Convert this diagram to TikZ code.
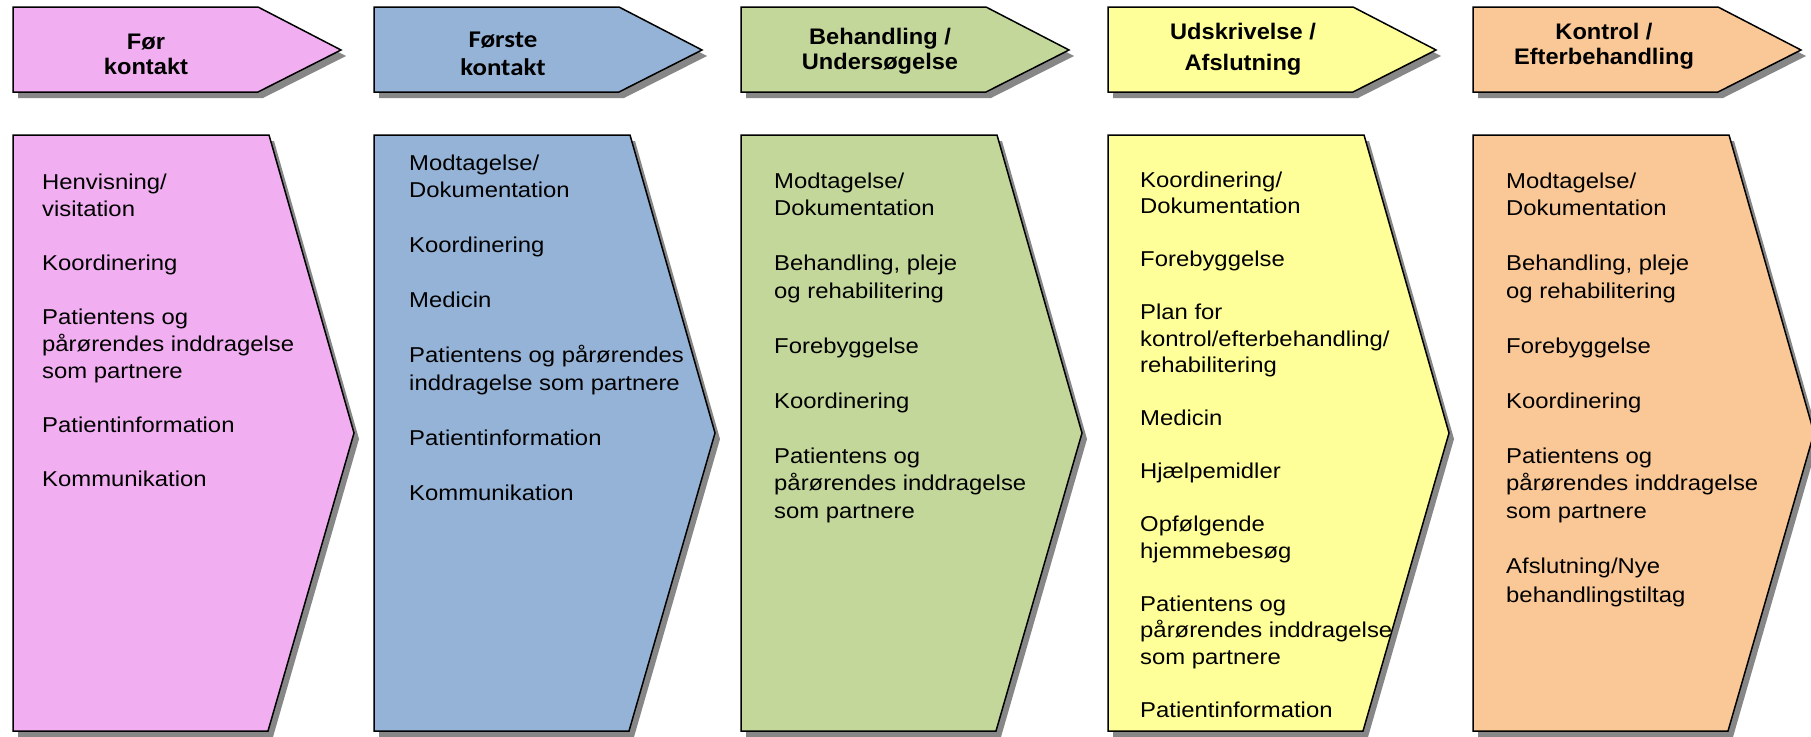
\documentclass[tikz,border=0pt]{standalone}
\usepackage{fontspec}
\setmainfont{Liberation Sans}[FakeStretch=1.11]
\newfontfamily\headfont{Liberation Sans}[FakeStretch=1.05]
\newfontfamily\calfont{Carlito}[FakeStretch=1.12]
\definecolor{cpink}{HTML}{F1AFF1}
\definecolor{cblue}{HTML}{95B3D7}
\definecolor{cgreen}{HTML}{C4D79B}
\definecolor{cyellow}{HTML}{FFFF99}
\definecolor{corange}{HTML}{FAC896}
\definecolor{shadowgray}{HTML}{878787}
\newcommand{\bodybox}[2]{\parbox[t]{330pt}{\fontsize{21.5}{#1}\selectfont\raggedright #2}}
\newcommand{\headbox}[1]{\parbox[t]{300pt}{\centering #1}}
\newcommand{\itemgap}{\\[\baselineskip]}
\newcommand{\drawphase}[2]{%
  \begin{scope}[shift={(#1,0)}]
    \fill[shadowgray] (5,13) -- (250,13) -- (333,56) -- (250,98) -- (5,98) -- cycle;
    \filldraw[shapeline, fill=#2] (0,7) -- (245,7) -- (328,50) -- (245,92) -- (0,92) -- cycle;
    \fill[shadowgray] (5,141) -- (261,141) -- (346,439) -- (260,737) -- (5,737) -- cycle;
    \filldraw[shapeline, fill=#2] (0,135) -- (256,135) -- (341,433) -- (255,731) -- (0,731) -- cycle;
  \end{scope}}
\begin{document}
\begin{tikzpicture}[x=1pt,y=-1pt,
  shapeline/.style={draw=black, line width=1.5pt, line join=miter},
  headtext/.style={inner sep=0pt, anchor=base, font=\headfont\bfseries\fontsize{22.5}{25}\selectfont},
  caltext/.style={inner sep=0pt, anchor=base, font=\calfont\bfseries\fontsize{24}{28}\selectfont},
  bodytext/.style={inner sep=0pt, anchor=base west}]
\useasboundingbox (0,0) rectangle (1811,736);
\clip (0,0) rectangle (1811,736);
\fill[white] (0,0) rectangle (1811,736);

\drawphase{13}{cpink}
\drawphase{374}{cblue}
\drawphase{741}{cgreen}
\drawphase{1108}{cyellow}
\drawphase{1473}{corange}

% headings
\node[headtext] (h1) at (146,49) {\headbox{Før\\kontakt}};
\node[caltext]  (h2) at (503,47) {\headbox{Første\\kontakt}};
\node[headtext] (h3) at (880,44) {\headbox{Behandling /\\Undersøgelse}};
\node[headtext] (h4) at (1243,39) {\headbox{Udskrivelse /\\[6pt]Afslutning}};
\node[headtext] (h5) at (1604,39) {\headbox{Kontrol /\\Efterbehandling}};

% bodies
\node[bodytext] (b1) at (42,189) {\bodybox{27}{Henvisning/\\visitation\itemgap
Koordinering\itemgap
Patientens og\\pårørendes inddragelse\\som partnere\itemgap
Patientinformation\itemgap
Kommunikation}};

\node[bodytext] (b2) at (409,170) {\bodybox{27.5}{Modtagelse/\\Dokumentation\itemgap
Koordinering\itemgap
Medicin\itemgap
Patientens og pårørendes\\inddragelse som partnere\itemgap
Patientinformation\itemgap
Kommunikation}};

\node[bodytext] (b3) at (774,188) {\bodybox{27.5}{Modtagelse/\\Dokumentation\itemgap
Behandling, pleje\\og rehabilitering\itemgap
Forebyggelse\itemgap
Koordinering\itemgap
Patientens og\\pårørendes inddragelse\\som partnere}};

\node[bodytext] (b4) at (1140,187) {\bodybox{26.5}{Koordinering/\\Dokumentation\itemgap
Forebyggelse\itemgap
Plan for\\kontrol/efterbehandling/\\rehabilitering\itemgap
Medicin\itemgap
Hjælpemidler\itemgap
Opfølgende\\hjemmebesøg\itemgap
Patientens og\\pårørendes inddragelse\\som partnere\itemgap
Patientinformation}};

\node[bodytext] (b5) at (1506,188) {\bodybox{27.5}{Modtagelse/\\Dokumentation\itemgap
Behandling, pleje\\og rehabilitering\itemgap
Forebyggelse\itemgap
Koordinering\itemgap
Patientens og\\pårørendes inddragelse\\som partnere\itemgap
Afslutning/Nye\\[2pt]behandlingstiltag}};
\end{tikzpicture}
\end{document}
